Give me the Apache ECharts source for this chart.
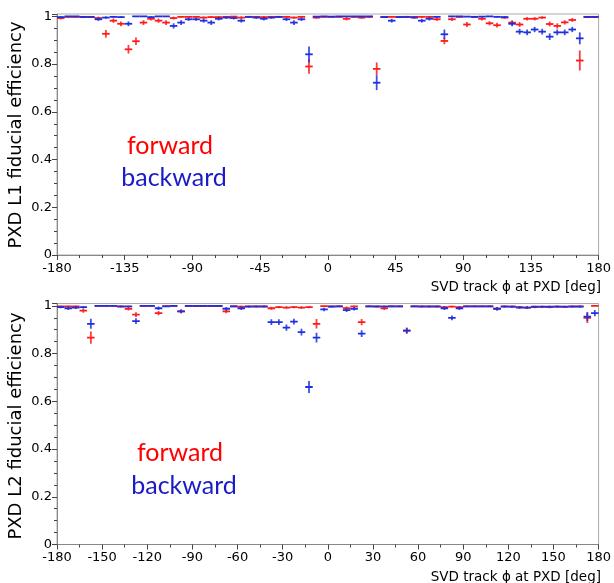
<!DOCTYPE html>
<html>
<head>
<meta charset="utf-8">
<style>
html,body{margin:0;padding:0;background:#fff;}
#chart{width:614px;height:583px;}
</style>
<script src="https://cdn.jsdelivr.net/npm/echarts@6/dist/echarts.min.js"></script>
</head>
<body>
<div id="chart"></div>
<script>
// bin centers of SVD track phi at PXD [deg]
const phiBins = [-177.5,-172.5,-167.5,-162.5,-157.5,-152.5,-147.5,-142.5,-137.5,-132.5,
 -127.5,-122.5,-117.5,-112.5,-107.5,-102.5,-97.5,-92.5,-87.5,-82.5,
 -77.5,-72.5,-67.5,-62.5,-57.5,-52.5,-47.5,-42.5,-37.5,-32.5,
 -27.5,-22.5,-17.5,-12.5,-7.5,-2.5,2.5,7.5,12.5,17.5,
 22.5,27.5,32.5,37.5,42.5,47.5,52.5,57.5,62.5,67.5,
 72.5,77.5,82.5,87.5,92.5,97.5,102.5,107.5,112.5,117.5,
 122.5,127.5,132.5,137.5,142.5,147.5,152.5,157.5,162.5,167.5,
 172.5,177.5];

const xTicksL1 = [-180,-135,-90,-45,0,45,90,135,180];
const xTicksL2 = [-180,-150,-120,-90,-60,-30,0,30,60,90,120,150,180];
const yTicks = [0,0.2,0.4,0.6,0.8,1];

// PXD L1 forward
const l1Fwd = [.993,.998,.998,.997,.997,.993,.927,.982,.969,.862,
 .896,.974,.990,.982,.974,.993,.998,.998,.998,.995,
 .997,.997,.998,.999,.995,.998,.998,.997,.998,.998,
 .998,.995,.998,.790,.995,.998,.998,.998,.990,.998,
 .995,.998,.780,.998,.998,.998,.998,.998,.998,.998,
 .988,.897,.988,.998,.966,.998,.990,.971,.963,.995,
 .974,.966,.990,.990,.995,.968,.960,.975,.985,.815,
 .997,.997];
const l1FwdErr = [.006,.003,.003,.004,.004,.006,.016,.009,.010,.018,
 .016,.010,.007,.009,.010,.006,.003,.003,.003,.005,
 .004,.004,.003,.002,.005,.003,.003,.004,.003,.003,
 .003,.005,.003,.030,.005,.003,.003,.003,.007,.003,
 .005,.003,.027,.003,.003,.003,.003,.003,.003,.003,
 .007,.014,.007,.003,.010,.003,.007,.009,.010,.005,
 .010,.010,.007,.007,.005,.010,.011,.009,.008,.042,
 .004,.004];
// PXD L1 backward
const l1Bwd = [.997,1.0,1.0,.998,.998,.988,.995,.998,.997,.969,
 1.0,1.0,.997,1.0,1.0,.960,.974,.988,.988,.982,
 .974,.990,.995,.993,.982,.998,.995,.990,.995,.998,
 .988,.974,.988,.841,.999,1.0,.999,1.0,1.0,1.0,
 1.0,1.0,.722,.997,.982,.997,.998,.995,.982,.990,
 .998,.925,1.0,1.0,.999,.998,.999,1.0,.998,.997,
 .969,.936,.933,.945,.936,.915,.933,.933,.945,.908,
 .998,.998];
const l1BwdErr = [.004,.001,.001,.003,.003,.007,.005,.003,.004,.010,
 .001,.001,.004,.001,.001,.011,.010,.007,.007,.008,
 .010,.007,.005,.006,.008,.003,.005,.007,.005,.003,
 .007,.010,.007,.033,.002,.001,.002,.001,.001,.001,
 .001,.001,.031,.004,.008,.004,.003,.005,.008,.007,
 .003,.020,.001,.001,.002,.003,.002,.001,.003,.004,
 .010,.012,.012,.011,.012,.014,.012,.012,.011,.025,
 .003,.003];
// PXD L2 forward
const l2Fwd = [.998,.998,.998,.980,.867,1.0,1.0,1.0,.997,.988,
 .963,1.0,1.0,.970,.999,1.0,.977,.999,.999,.999,
 .999,.999,.977,.998,.997,.998,.997,.997,.990,.995,
 .993,.995,.993,.995,.925,.999,.998,.998,.990,.998,
 .932,.998,.997,.990,.998,.998,.896,.998,.997,.997,
 .997,.995,.997,.995,.998,.998,.998,.998,.988,.998,
 .997,.995,.993,.995,.996,.995,.997,.996,.998,.998,
 .950,1.0];
const l2FwdErr = [.003,.003,.003,.009,.026,.001,.001,.001,.004,.007,
 .010,.001,.001,.009,.002,.001,.008,.002,.002,.002,
 .002,.002,.008,.003,.004,.003,.004,.004,.006,.005,
 .005,.005,.005,.005,.020,.002,.003,.003,.007,.003,
 .013,.003,.004,.007,.003,.003,.012,.003,.004,.004,
 .004,.005,.004,.005,.003,.003,.003,.003,.007,.003,
 .004,.005,.005,.005,.004,.005,.004,.004,.003,.003,
 .022,.001];
// PXD L2 backward
const l2Bwd = [.995,.990,.993,.995,.925,1.0,1.0,1.0,.998,.998,
 .936,1.0,1.0,.990,.998,1.0,.977,1.0,1.0,1.0,
 1.0,1.0,.988,.998,.990,.997,.998,.998,.932,.932,
 .909,.934,.890,.660,.867,.985,.997,.998,.982,.988,
 .884,.998,.998,.998,.998,.998,.896,.998,.998,.998,
 .998,.990,.950,.990,.998,.998,.998,.998,.988,.997,
 .997,.993,.993,.997,.997,.997,.997,.997,.997,.997,
 .955,.970];
const l2BwdErr = [.005,.007,.006,.005,.021,.001,.001,.001,.003,.003,
 .012,.001,.001,.007,.003,.001,.008,.001,.001,.001,
 .001,.001,.007,.003,.007,.004,.003,.003,.012,.012,
 .013,.012,.014,.025,.020,.007,.004,.003,.008,.007,
 .014,.003,.003,.003,.003,.003,.012,.003,.003,.003,
 .003,.007,.010,.007,.003,.003,.003,.003,.007,.004,
 .004,.005,.005,.004,.004,.004,.004,.004,.004,.004,
 .018,.013];

const RED = '#ff1a1a';
const BLUE = '#1f2fe0';
const HALF_BIN = 2.5;

function build(vals, errs) {
  return phiBins.map((p, i) => [p, vals[i], errs[i]]);
}

function crossSeries(name, color, data, gi) {
  return {
    type: 'custom', name: name, xAxisIndex: gi, yAxisIndex: gi, clip: true,
    data: data,
    renderItem: function (params, api) {
      const x = api.value(0), y = api.value(1), e = api.value(2);
      const pl = api.coord([x - HALF_BIN, y]);
      const pr = api.coord([x + HALF_BIN, y]);
      const pt = api.coord([x, y + e]);
      const pb = api.coord([x, y - e]);
      return {
        type: 'group',
        children: [
          {type: 'line', shape: {x1: pl[0], y1: pl[1], x2: pr[0], y2: pr[1]}, style: {stroke: color, lineWidth: 1.8}},
          {type: 'line', shape: {x1: pt[0], y1: pt[1], x2: pb[0], y2: pb[1]}, style: {stroke: color, lineWidth: 1.8, opacity: 0.85}}
        ]
      };
    }
  };
}

function xAxis(gi, interval, minorSplit) {
  return {
    type: 'value', gridIndex: gi, min: -180, max: 180, interval: interval,
    axisLine: {onZero: false, lineStyle: {color: '#888', width: 1}},
    axisTick: {length: 5, lineStyle: {color: '#444'}},
    minorTick: {show: true, splitNumber: minorSplit, length: 3, lineStyle: {color: '#444'}},
    splitLine: {show: false},
    axisLabel: {fontFamily: 'DejaVu Sans', fontSize: 13, color: '#000', margin: 7}
  };
}
function yAxis(gi) {
  return {
    type: 'value', gridIndex: gi, min: 0, max: 1.01, interval: 0.2,
    axisLine: {show: true, onZero: false, lineStyle: {color: '#888', width: 1}},
    axisTick: {show: true, length: 5, lineStyle: {color: '#444'}},
    minorTick: {show: true, splitNumber: 4, length: 3, lineStyle: {color: '#444'}},
    splitLine: {show: false},
    axisLabel: {fontFamily: 'DejaVu Sans', fontSize: 13, color: '#000', margin: 5, showMaxLabel: false,
      formatter: function (v) { return yTicks.indexOf(Math.round(v * 10) / 10) >= 0 ? String(Math.round(v * 10) / 10) : ''; }}
  };
}

const chart = echarts.init(document.getElementById('chart'), null, {renderer: 'canvas'});
chart.setOption({
  animation: false,
  backgroundColor: '#fff',
  grid: [
    {left: 57, right: 12, top: 14, height: 241, show: true, borderColor: '#aaa', borderWidth: 1, backgroundColor: 'transparent'},
    {left: 57, right: 12, top: 303.5, height: 241, show: true, borderColor: '#aaa', borderWidth: 1, backgroundColor: 'transparent'}
  ],
  xAxis: [xAxis(0, xTicksL1[1] - xTicksL1[0], 3), xAxis(1, xTicksL2[1] - xTicksL2[0], 2)],
  yAxis: [yAxis(0), yAxis(1)],
  series: [
    crossSeries('L1 forward', RED, build(l1Fwd, l1FwdErr), 0),
    crossSeries('L1 backward', BLUE, build(l1Bwd, l1BwdErr), 0),
    crossSeries('L2 forward', RED, build(l2Fwd, l2FwdErr), 1),
    crossSeries('L2 backward', BLUE, build(l2Bwd, l2BwdErr), 1)
  ],
  graphic: [
    {type: 'text', x: 16, y: 135, rotation: Math.PI / 2, style: {text: 'PXD L1 fiducial efficiency', fontFamily: 'DejaVu Sans', fontSize: 18, fill: '#000', align: 'center', verticalAlign: 'middle'}},
    {type: 'text', x: 16, y: 426, rotation: Math.PI / 2, style: {text: 'PXD L2 fiducial efficiency', fontFamily: 'DejaVu Sans', fontSize: 18, fill: '#000', align: 'center', verticalAlign: 'middle'}},
    {type: 'text', x: 601, y: 287, style: {text: 'SVD track \u03d5 at PXD [deg]', fontFamily: 'DejaVu Sans', fontSize: 13.5, fill: '#000', align: 'right', verticalAlign: 'middle'}},
    {type: 'text', x: 601, y: 577, style: {text: 'SVD track \u03d5 at PXD [deg]', fontFamily: 'DejaVu Sans', fontSize: 13.5, fill: '#000', align: 'right', verticalAlign: 'middle'}},
    {type: 'text', x: 170, y: 146, style: {text: 'forward', fontFamily: 'Lato', fontSize: 25, fill: '#ff0000', align: 'center', verticalAlign: 'middle'}},
    {type: 'text', x: 174, y: 178, style: {text: 'backward', fontFamily: 'Lato', fontSize: 25, fill: '#1a1ac8', align: 'center', verticalAlign: 'middle'}},
    {type: 'text', x: 180, y: 453, style: {text: 'forward', fontFamily: 'Lato', fontSize: 25, fill: '#ff0000', align: 'center', verticalAlign: 'middle'}},
    {type: 'text', x: 184, y: 486, style: {text: 'backward', fontFamily: 'Lato', fontSize: 25, fill: '#1a1ac8', align: 'center', verticalAlign: 'middle'}}
  ]
});
</script>
</body>
</html>
